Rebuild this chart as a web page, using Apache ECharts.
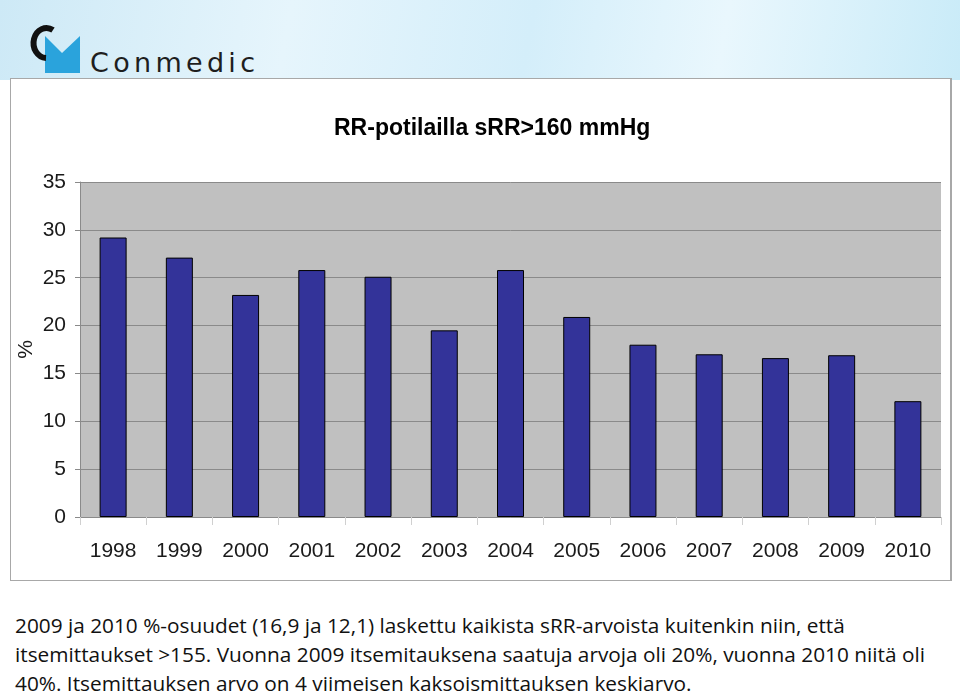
<!DOCTYPE html>
<html>
<head>
<meta charset="utf-8">
<script src="https://cdn.jsdelivr.net/npm/echarts@6/dist/echarts.min.js"></script>
<style>
  body { margin: 0; width: 960px; height: 691px; background: #fff; overflow: hidden; position: relative; font-family: "Liberation Sans", Arial, sans-serif; }
  #header {
    position: absolute; left: 0; top: 0; width: 960px; height: 80px;
    background: linear-gradient(100deg, #cde9f6 0%, #e6f5fc 30%, #d4eefa 55%, #e9f7fd 75%, #c9ebf8 100%);
  }
  #brand { position: absolute; left: 90px; top: 47px; font-family: "DejaVu Sans", sans-serif; font-size: 27px; letter-spacing: 4.3px; color: #1e1e1e; }
  #frame { position: absolute; left: 10px; top: 78px; width: 939px; height: 501px; background: #fff; border: 1px solid #a8a8a8; border-right-width: 2px; }
  #chart { width: 939px; height: 501px; }
  #note {
    position: absolute; left: 15px; top: 611px; width: 945px;
    font-family: "Open Sans", Lato, sans-serif; font-size: 20.8px; line-height: 29px; color: #111;
  }
</style>
</head>
<body>
<div id="header">
  <svg width="90" height="80" style="position:absolute;left:0;top:0">
    <polygon points="45,36 62,53 80,36 80,73 45,73" fill="#2aa3dc"/>
    <path d="M 53 30 A 13 15 0 1 0 46 58" fill="none" stroke="#111" stroke-width="6"/>
  </svg>
  <div id="brand">Conmedic</div>
</div>
<div id="frame"><div id="chart"></div></div>
<div id="note">
  2009 ja 2010 %-osuudet (16,9 ja 12,1) laskettu kaikista sRR-arvoista kuitenkin niin, että<br>
  itsemittaukset &gt;155. Vuonna 2009 itsemitauksena saatuja arvoja oli 20%, vuonna 2010 niitä oli<br>
  40%. Itsemittauksen arvo on 4 viimeisen kaksoismittauksen keskiarvo.
</div>
<script>
const years = ["1998", "1999", "2000", "2001", "2002", "2003", "2004", "2005", "2006", "2007", "2008", "2009", "2010"];
const shares = [29.2, 27.1, 23.2, 25.8, 25.1, 19.5, 25.8, 20.9, 18.0, 17.0, 16.6, 16.9, 12.1];
const yTicks = [0, 5, 10, 15, 20, 25, 30, 35];

let myChart = echarts.init(document.getElementById("chart"));
myChart.setOption({
  animation: false,
  title: {
    text: "RR-potilailla sRR>160 mmHg",
    left: 318,
    top: 33,
    textStyle: { fontFamily: "Liberation Sans", fontSize: 23, fontWeight: "bold", color: "#000" },
  },
  grid: {
    left: 69, right: 9, top: 103, bottom: 63,
    outerBoundsMode: "none",
    containLabel: false,
    show: true, backgroundColor: "#c0c0c0", borderWidth: 0,
  },
  xAxis: {
    type: "category",
    data: years,
    axisLine: { lineStyle: { color: "#8a8a8a" } },
    axisTick: { show: true, length: 8, lineStyle: { color: "#d0d0d0" } },
    axisLabel: { fontFamily: "Liberation Sans", fontSize: 21, color: "#1a1a1a", margin: 24 },
  },
  yAxis: {
    type: "value",
    min: yTicks[0],
    max: yTicks[yTicks.length - 1],
    interval: 5,
    name: "%",
    nameLocation: "middle",
    nameGap: 43,
    nameMoveOverlap: false,
    nameTextStyle: { fontFamily: "Liberation Sans", fontSize: 21, color: "#1a1a1a" },
    axisLine: { show: true, lineStyle: { color: "#8a8a8a" } },
    axisTick: { show: true, length: 5, lineStyle: { color: "#8a8a8a" } },
    axisLabel: { fontFamily: "Liberation Sans", fontSize: 21, color: "#1a1a1a", margin: 14 },
    splitLine: { lineStyle: { color: "#8a8a8a", width: 1 } },
  },
  series: [
    {
      type: "bar",
      data: shares,
      barWidth: 27,
      itemStyle: { color: "#333399", borderColor: "#000", borderWidth: 1 },
    },
  ],
});
</script>
</body>
</html>
